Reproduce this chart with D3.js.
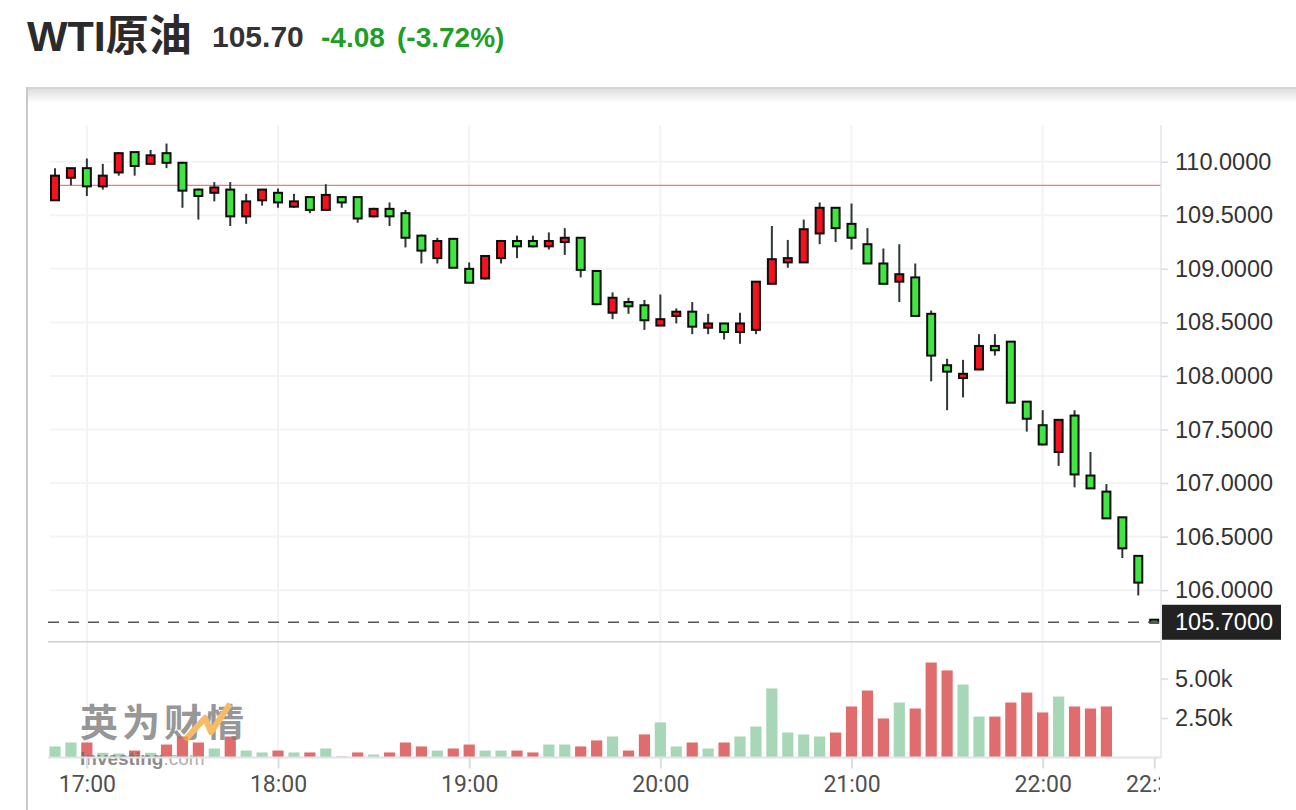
<!DOCTYPE html>
<html><head><meta charset="utf-8">
<script src="https://cdn.jsdelivr.net/npm/d3@7"></script>
<style>
html,body{margin:0;padding:0;background:#fff;}
svg{display:block;}
</style></head><body>
<svg id="chart" width="1296" height="810"></svg>
<script>
// ---- data (5-minute candles starting 16:50) ----
const startTime = "16:50";
const intervalMinutes = 5;
const opens  = [109.64,109.85,109.94,109.77,109.90,110.09,109.98,110.08,109.99,109.74,
                109.71,109.74,109.49,109.64,109.71,109.58,109.67,109.55,109.67,109.67,
                109.49,109.56,109.52,109.31,109.10,109.28,109.00,108.91,109.10,109.26,
                109.26,109.21,109.25,109.29,108.98,108.59,108.69,108.66,108.47,108.56,
                108.60,108.45,108.49,108.41,108.43,108.86,109.06,109.06,109.33,109.57,
                109.42,109.23,109.05,108.88,108.92,108.58,108.10,107.98,108.06,108.28,
                108.32,107.76,107.54,107.29,107.63,107.07,106.92,106.68,106.32,105.72];
const highs  = [109.94,109.94,110.03,109.98,110.09,110.09,110.11,110.17,110.00,109.75,
                109.81,109.81,109.70,109.74,109.75,109.70,109.67,109.79,109.68,109.67,
                109.57,109.62,109.55,109.32,109.29,109.28,109.06,109.12,109.27,109.31,
                109.31,109.34,109.38,109.29,108.98,108.78,108.73,108.71,108.76,108.63,
                108.69,108.58,108.49,108.59,108.88,109.40,109.27,109.46,109.62,109.57,
                109.61,109.38,109.19,109.23,109.05,108.61,108.16,108.15,108.39,108.39,
                108.32,107.76,107.68,107.59,107.68,107.29,106.99,106.68,106.32,105.72];
const lows   = [109.64,109.78,109.68,109.74,109.87,109.87,109.98,109.94,109.57,109.46,
                109.63,109.40,109.42,109.59,109.57,109.57,109.52,109.55,109.57,109.43,
                109.48,109.40,109.20,109.05,109.05,109.01,108.87,108.90,109.05,109.10,
                109.20,109.18,109.13,108.92,108.66,108.53,108.58,108.43,108.47,108.49,
                108.39,108.39,108.34,108.30,108.39,108.86,109.01,109.06,109.23,109.25,
                109.18,109.05,108.86,108.69,108.56,107.95,107.68,107.80,108.06,108.19,
                107.75,107.48,107.35,107.16,106.96,106.95,106.67,106.30,105.95,105.70];
const closes = [109.87,109.94,109.77,109.87,110.08,109.96,110.06,109.99,109.73,109.68,
                109.76,109.49,109.63,109.74,109.62,109.63,109.55,109.69,109.62,109.47,
                109.56,109.49,109.29,109.17,109.26,109.01,108.87,109.12,109.26,109.21,
                109.21,109.26,109.29,108.99,108.67,108.73,108.65,108.52,108.53,108.60,
                108.46,108.49,108.41,108.49,108.88,109.09,109.10,109.37,109.57,109.38,
                109.29,109.05,108.86,108.95,108.56,108.19,108.04,108.02,108.28,108.24,
                107.75,107.60,107.36,107.59,107.08,106.95,106.67,106.39,106.07,105.70];
const volumes = [700,950,950,300,250,440,300,820,1330,950,
                 570,1330,440,320,440,320,320,570,60,320,
                 190,320,950,700,440,570,820,440,440,440,
                 320,820,820,700,1080,1330,440,1460,2220,700,
                 950,570,950,1330,1960,4370,1580,1460,1330,1580,
                 3230,4240,2470,3480,3100,6010,5510,4620,2590,2590,
                 3480,4110,2850,3860,3230,3100,3230];
const timeTickLabels = ["17:00","18:00","19:00","20:00","21:00","22:00","22:35"];
const gridTimeLabels = ["17:00","18:00","19:00","20:00","21:00","22:00"];
const priceTicks = [106,106.5,107,107.5,108,108.5,109,109.5,110];
const volumeTicks = [2500,5000];
const prevClose = 109.78;
const lastPrice = 105.70;
const titleName = "WTI原油";
const titlePrice = "105.70";
const titleChange = "-4.08";
const titlePct = "(-3.72%)";

// ---- layout ----
const svg = d3.select("#chart");
const L = 48, R = 1161, PT = 125, PB = 641, VT = 642, VB = 757.5;
const parse = d3.timeParse("%H:%M");
const t0 = parse(startTime);
const times = opens.map((_, i) => d3.timeMinute.offset(t0, i * intervalMinutes));
const x = d3.scaleTime().domain([times[0], times[times.length - 1]]).range([55, 1154.2]);
const y = d3.scaleLinear().domain([105.525, 110.343]).range([PB, PT]);
const yv = d3.scaleLinear().domain([0, 7310]).range([VB, VT]);

const candles = opens.map((o, i) => ({t: times[i], o, h: highs[i], l: lows[i], c: closes[i]}));
const vols = volumes.map((v, i) => ({t: times[i], v, up: closes[i] >= opens[i]}));

// frame
const defs = svg.append("defs");
const sg = defs.append("linearGradient").attr("id","shadow").attr("x1",0).attr("y1",0).attr("x2",0).attr("y2",1);
sg.append("stop").attr("offset","0%").attr("stop-color","#000").attr("stop-opacity",0.13);
sg.append("stop").attr("offset","100%").attr("stop-color","#000").attr("stop-opacity",0);
defs.append("clipPath").attr("id","plotclip").append("rect").attr("x",L).attr("y",0).attr("width",R-L).attr("height",810);
defs.append("clipPath").attr("id","axisclip").append("rect").attr("x",0).attr("y",0).attr("width",R-1).attr("height",810);

svg.append("rect").attr("x",28).attr("y",89).attr("width",1268).attr("height",14).attr("fill","url(#shadow)");
svg.append("line").attr("x1",27).attr("x2",1296).attr("y1",88).attr("y2",88).attr("stroke","#d6d6d6").attr("stroke-width",2);
svg.append("line").attr("x1",27).attr("x2",27).attr("y1",87).attr("y2",810).attr("stroke","#c9c9c9").attr("stroke-width",2);

// title
const tg = svg.append("g");
tg.append("text").attr("x",27).attr("y",51).text(titleName)
  .attr("font-family","'Liberation Sans','Noto Sans CJK SC',sans-serif").attr("font-weight","bold")
  .attr("font-size",43).attr("fill","#2b2b2b");
tg.append("text").attr("x",212).attr("y",47).text(titlePrice)
  .attr("font-family","'Liberation Sans',sans-serif").attr("font-weight","bold")
  .attr("font-size",30).attr("fill","#333");
tg.append("text").attr("x",321).attr("y",47).text(titleChange)
  .attr("font-family","'Liberation Sans',sans-serif").attr("font-weight","bold")
  .attr("font-size",28).attr("fill","#1e9e24");
tg.append("text").attr("x",397).attr("y",47).text(titlePct)
  .attr("font-family","'Liberation Sans',sans-serif").attr("font-weight","bold")
  .attr("font-size",28).attr("fill","#1e9e24");

// grid
const grid = svg.append("g");
grid.selectAll("line.v").data(gridTimeLabels).join("line")
  .attr("x1", d => x(parse(d))).attr("x2", d => x(parse(d)))
  .attr("y1", PT).attr("y2", VB).attr("stroke","#f3f3f3").attr("stroke-width",2);
grid.selectAll("line.h").data(priceTicks).join("line")
  .attr("x1", 50).attr("x2", R).attr("y1", d => y(d)).attr("y2", d => y(d))
  .attr("stroke","#f4f4f4").attr("stroke-width",2);

// prev close line
svg.append("line").attr("x1",50).attr("x2",R).attr("y1",y(prevClose)).attr("y2",y(prevClose))
  .attr("stroke","#f47a7a").attr("stroke-width",1.3);

// pane separator
svg.append("line").attr("x1",L).attr("x2",R).attr("y1",641.7).attr("y2",641.7)
  .attr("stroke","#cfcfcf").attr("stroke-width",1.6);

// volume bars
const vg = svg.append("g").attr("clip-path","url(#plotclip)");
vg.selectAll("rect").data(vols).join("rect")
  .attr("x", d => x(d.t) - 5.6).attr("width", 11.2)
  .attr("y", d => yv(d.v)).attr("height", d => VB - yv(d.v))
  .attr("fill", d => d.up ? "#a8d7b7" : "#df6d6d");

// watermark
const wm = svg.append("g").attr("opacity",0.78);
wm.append("text").attr("x",80).attr("y",736).text("英为财情")
  .attr("font-family","'Noto Sans CJK SC',sans-serif").attr("font-weight","bold")
  .attr("font-size",38).attr("letter-spacing",4).attr("fill","#7a7a7a");
wm.append("path").attr("d","M185,740 L205,718 L211,732 L230,704")
  .attr("fill","none").attr("stroke","#f7a93a").attr("stroke-width",6).attr("stroke-linejoin","round");
const inv = wm.append("text").attr("x",80).attr("y",765)
  .attr("font-family","'Liberation Sans',sans-serif").attr("font-size",19);
inv.append("tspan").text("Investing").attr("font-weight","bold").attr("fill","#6d6d6d");
inv.append("tspan").text(".com").attr("fill","#9a9a9a");

// volume baseline
svg.append("line").attr("x1",L).attr("x2",R).attr("y1",VB).attr("y2",VB)
  .attr("stroke","#e0e3ea").attr("stroke-width",2);

// candles
const cg = svg.append("g").attr("clip-path","url(#plotclip)");
cg.selectAll("line").data(candles).join("line")
  .attr("x1", d => x(d.t)).attr("x2", d => x(d.t))
  .attr("y1", d => y(d.h)).attr("y2", d => y(d.l))
  .attr("stroke","#2e3838").attr("stroke-width",2);
cg.selectAll("rect").data(candles).join("rect")
  .attr("x", d => x(d.t) - 4).attr("width", 8)
  .attr("y", d => Math.min(y(Math.max(d.o, d.c)), (y(d.o) + y(d.c)) / 2 - 1.5))
  .attr("height", d => Math.max(Math.abs(y(d.o) - y(d.c)), 3))
  .attr("fill", d => d.c >= d.o ? "#f3121e" : "#3ee63f")
  .attr("stroke","#0d0d0d").attr("stroke-width",2);

// last price dashed line
svg.append("line").attr("x1",L).attr("x2",R).attr("y1",y(lastPrice)).attr("y2",y(lastPrice))
  .attr("stroke","#555").attr("stroke-width",1.6).attr("stroke-dasharray","11,9");

// right axis line
svg.append("line").attr("x1",R).attr("x2",R).attr("y1",PT).attr("y2",VB)
  .attr("stroke","#e4e6ec").attr("stroke-width",1.5);

// price axis
const ya = svg.append("g").attr("transform",`translate(${R},0)`)
  .call(d3.axisRight(y).tickValues(priceTicks).tickFormat(d3.format(".4f")).tickSize(7).tickPadding(7));
ya.select(".domain").remove();
ya.selectAll(".tick line").attr("stroke","#d8dbe2").attr("stroke-width",1.5);
ya.selectAll(".tick text").attr("font-family","'Liberation Sans',sans-serif").attr("font-size",23.5).attr("fill","#333");

// last price label
svg.append("rect").attr("x",1162).attr("y",y(lastPrice)-17.5).attr("width",119).attr("height",35).attr("fill","#222");
svg.append("text").attr("x",1175).attr("y",y(lastPrice)).attr("dy","0.35em").text(d3.format(".4f")(lastPrice))
  .attr("font-family","'Liberation Sans',sans-serif").attr("font-size",23.5).attr("fill","#fff");

// volume axis
const va = svg.append("g").attr("transform",`translate(${R},0)`)
  .call(d3.axisRight(yv).tickValues(volumeTicks).tickFormat(d => d3.format(".2f")(d/1000) + "k").tickSize(7).tickPadding(7));
va.select(".domain").remove();
va.selectAll(".tick line").attr("stroke","#d8dbe2").attr("stroke-width",1.5);
va.selectAll(".tick text").attr("font-family","'Liberation Sans',sans-serif").attr("font-size",23.5).attr("fill","#333");

// time axis
const xa = svg.append("g").attr("transform",`translate(0,${VB})`).attr("clip-path","url(#axisclip)")
  .call(d3.axisBottom(x).tickValues(timeTickLabels.map(parse)).tickFormat(d3.timeFormat("%H:%M")).tickSize(11).tickPadding(7));
xa.select(".domain").remove();
xa.selectAll(".tick line").attr("stroke","#dadde4").attr("stroke-width",2);
xa.selectAll(".tick text").attr("font-family","Roboto,sans-serif").attr("font-size",23).attr("fill","#505050");
</script>
</body></html>
